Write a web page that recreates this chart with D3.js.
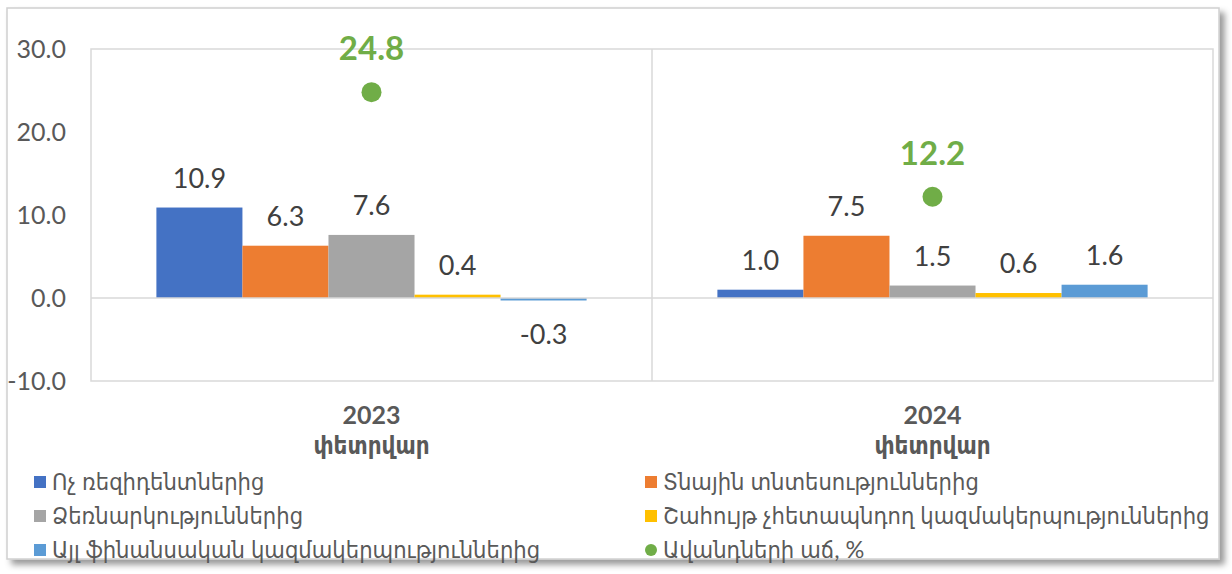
<!DOCTYPE html>
<html>
<head>
<meta charset="utf-8">
<script src="https://cdn.jsdelivr.net/npm/d3@7"></script>
<style>
  body { margin: 0; background: #fff; }
  text { font-family: Lato, "DejaVu Sans Condensed", sans-serif; }
</style>
</head>
<body>
<div id="chart"></div>
<script>
"use strict"

// data
const categories = ["2023", "2024"];
const subLabel = "փետրվար";
const seriesNames = [
    "Ոչ ռեզիդենտներից",
    "Տնային տնտեսություններից",
    "Ձեռնարկություններից",
    "Շահույթ չհետապնդող կազմակերպություններից",
    "Այլ ֆինանսական կազմակերպություններից"
];
const seriesValues = [
    [10.9, 1.0],
    [6.3, 7.5],
    [7.6, 1.5],
    [0.4, 0.6],
    [-0.3, 1.6]
];
const growthName = "Ավանդների աճ, %";
const growthValues = [24.8, 12.2];
const yTicks = [-10, 0, 10, 20, 30];
const colors = ["#4472C4", "#ED7D31", "#A5A5A5", "#FFC000", "#5B9BD5"];
const green = "#70AD47";

let width = 1232, height = 574;
let svg = d3.select("#chart").append("svg")
    .attr("width", width)
    .attr("height", height);

// plain hyphen for negatives, like the original
let fmt = v => d3.format(".1f")(v).replace("\u2212", "-");

// frame with shadow
let defs = svg.append("defs");
let filter = defs.append("filter").attr("id", "shadow")
    .attr("x", "-5%").attr("y", "-5%").attr("width", "110%").attr("height", "115%");
filter.append("feDropShadow")
    .attr("dx", 5).attr("dy", 5).attr("stdDeviation", 3)
    .attr("flood-color", "#000").attr("flood-opacity", 0.4);

svg.append("rect")
    .attr("x", 7).attr("y", 8)
    .attr("width", 1212).attr("height", 551)
    .attr("fill", "#fff")
    .attr("stroke", "#d0d0d0")
    .attr("stroke-width", 1.5)
    .attr("filter", "url(#shadow)");

let plot = { left: 91, right: 1213, top: 49, bottom: 381 };

let y = d3.scaleLinear().domain([-10, 30]).range([plot.bottom, plot.top]);
let x0 = d3.scaleBand().domain(categories).range([plot.left, plot.right]);
let x1 = d3.scaleBand().domain(d3.range(seriesNames.length))
    .range([0, x0.bandwidth()]).paddingOuter(0.76).paddingInner(0);

// plot border + category separators
let g = svg.append("g");
g.append("rect")
    .attr("x", plot.left).attr("y", plot.top)
    .attr("width", plot.right - plot.left).attr("height", plot.bottom - plot.top)
    .attr("fill", "none").attr("stroke", "#d9d9d9").attr("stroke-width", 1.5);
categories.slice(1).forEach(c => {
    g.append("line")
        .attr("x1", x0(c)).attr("x2", x0(c))
        .attr("y1", plot.top).attr("y2", plot.bottom)
        .attr("stroke", "#d9d9d9").attr("stroke-width", 1.5);
});

// y axis labels
g.selectAll(".ytick").data(yTicks).enter().append("text")
    .attr("class", "ytick")
    .attr("x", 66)
    .attr("y", d => y(d) + 9)
    .attr("text-anchor", "end")
    .attr("fill", "#595959")
    .style("font-size", "25px")
    .text(d => fmt(d));

// bars
seriesValues.forEach((vals, si) => {
    vals.forEach((v, ci) => {
        let bx = x0(categories[ci]) + x1(si);
        g.append("rect")
            .attr("x", bx)
            .attr("y", y(Math.max(0, v)))
            .attr("width", x1.bandwidth())
            .attr("height", Math.abs(y(v) - y(0)))
            .attr("fill", colors[si]);
        g.append("text")
            .attr("x", bx + x1.bandwidth() / 2)
            .attr("y", v >= 0 ? y(v) - 20 : y(v) + 44)
            .attr("text-anchor", "middle")
            .attr("fill", "#404040")
            .style("font-size", "27px")
            .text(fmt(v));
    });
});

// zero line
g.append("line")
    .attr("x1", plot.left).attr("x2", plot.right)
    .attr("y1", y(0)).attr("y2", y(0))
    .attr("stroke", "#d9d9d9").attr("stroke-width", 1.5);

// growth points
growthValues.forEach((v, ci) => {
    let cx = x0(categories[ci]) + x0.bandwidth() / 2;
    g.append("circle")
        .attr("cx", cx).attr("cy", y(v)).attr("r", 10)
        .attr("fill", green);
    g.append("text")
        .attr("x", cx).attr("y", y(v) - 32)
        .attr("text-anchor", "middle")
        .attr("fill", green)
        .style("font-size", "33px")
        .style("font-weight", "bold")
        .text(fmt(v));
});

// category labels
categories.forEach(c => {
    let cx = x0(c) + x0.bandwidth() / 2;
    g.append("text")
        .attr("x", cx).attr("y", 424)
        .attr("text-anchor", "middle")
        .attr("fill", "#595959")
        .style("font-size", "25px")
        .style("font-weight", "bold")
        .text(c);
    g.append("text")
        .attr("x", cx).attr("y", 454)
        .attr("text-anchor", "middle")
        .attr("fill", "#595959")
        .style("font-size", "24px")
        .style("font-weight", "bold")
        .text(subLabel);
});

// legend
let legendItems = seriesNames.map((n, i) => ({ name: n, color: colors[i], type: "rect" }));
legendItems.push({ name: growthName, color: green, type: "circle" });
let legend = svg.append("g");
legendItems.forEach((d, i) => {
    let col = i % 2, row = Math.floor(i / 2);
    let lx = col === 0 ? 34 : 645;
    let ly = 482 + row * 34;
    if (d.type === "rect") {
        legend.append("rect")
            .attr("x", lx).attr("y", ly - 6)
            .attr("width", 12).attr("height", 12)
            .attr("fill", d.color);
    } else {
        legend.append("circle")
            .attr("cx", lx + 6).attr("cy", ly).attr("r", 6)
            .attr("fill", d.color);
    }
    legend.append("text")
        .attr("x", lx + 18).attr("y", ly + 8)
        .attr("fill", "#595959")
        .style("font-size", "23.5px")
        .text(d.name);
});
</script>
</body>
</html>
